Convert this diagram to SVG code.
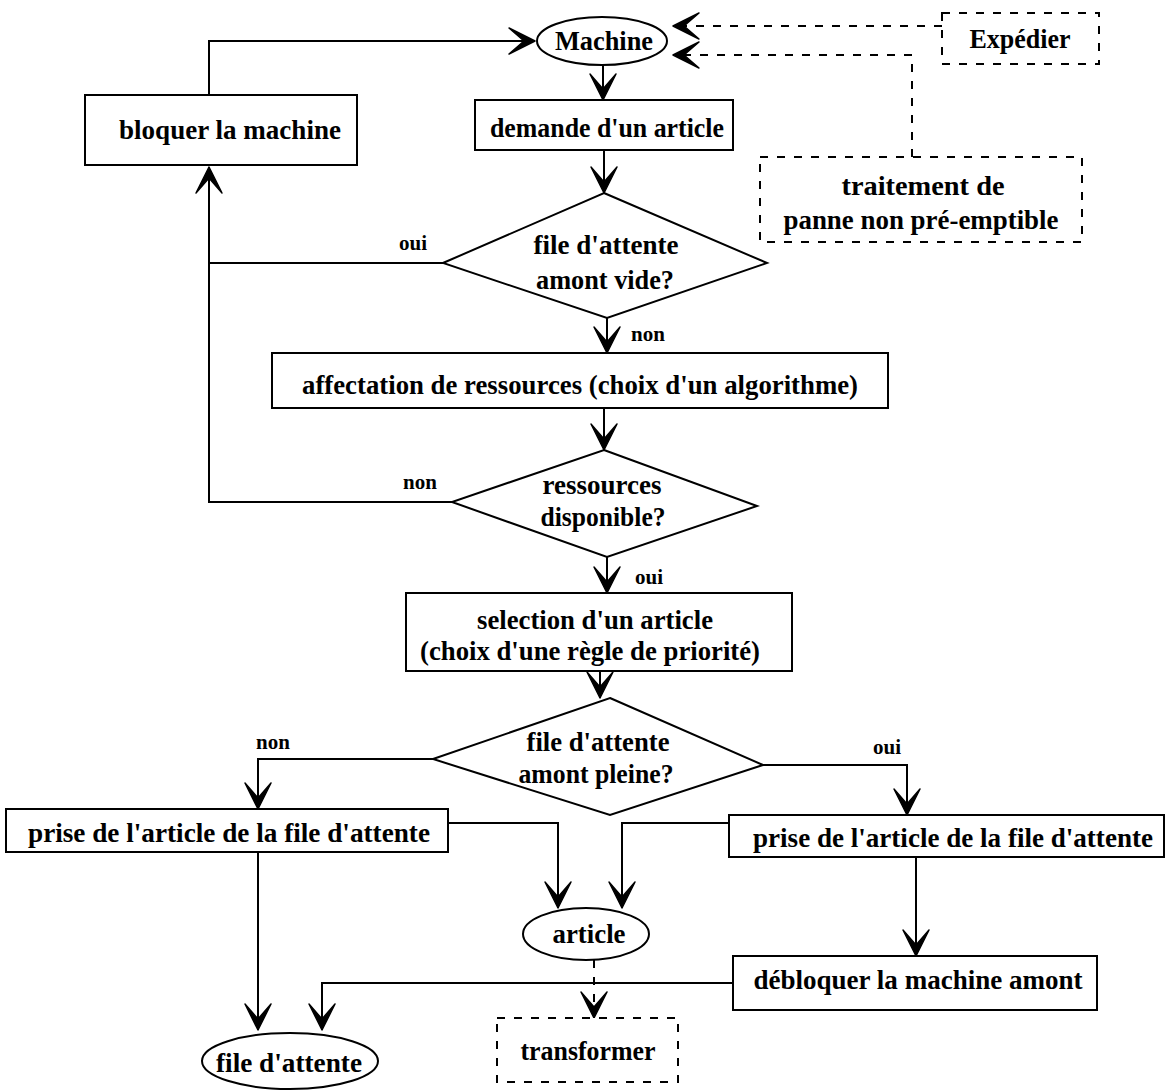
<svg xmlns="http://www.w3.org/2000/svg" width="1167" height="1090" viewBox="0 0 1167 1090">
<style>
.bg{fill:#fff}
.box{fill:#fff;stroke:#000;stroke-width:2}
.dbox{fill:#fff;stroke:#000;stroke-width:2;stroke-dasharray:8 9}
.t{font-family:"Liberation Serif","Times New Roman",serif;font-weight:bold;font-size:27px;fill:#000;text-anchor:middle}
.l{font-family:"Liberation Serif","Times New Roman",serif;font-weight:bold;font-size:21px;fill:#000;text-anchor:middle}
.c{fill:none;stroke:#000;stroke-width:2}
.a{marker-end:url(#ah)}
.d{stroke-dasharray:8 9}
</style>
<defs>
<marker id="ah" viewBox="-28 -16 30 32" refX="0" refY="0" markerWidth="30" markerHeight="32" markerUnits="userSpaceOnUse" orient="auto">
<path d="M0,0 L-26,-13 L-11,0 L-26,13 Z" fill="#000" stroke="#000" stroke-width="1.5" stroke-linejoin="round"/>
</marker>
</defs>
<rect class="bg" x="0" y="0" width="1167" height="1090"/>

<g id="connectors">
<path class="c a" d="M209,95 V41 H535"/>
<path class="c a d" d="M942,26 H673"/>
<path class="c a d" d="M912,157 V55 H673"/>
<path class="c a" d="M603,65 V100"/>
<path class="c a" d="M604,150 V193"/>
<path class="c a" d="M452,502 H209 V167"/>
<path class="c" d="M443,263 H209"/>
<path class="c a" d="M607,318 V353"/>
<path class="c a" d="M604,408 V450"/>
<path class="c a" d="M607,557 V593"/>
<path class="c a" d="M600,662 V698"/>
<path class="c a" d="M433,759 H258 V809"/>
<path class="c a" d="M763,765 H907 V815"/>
<path class="c a" d="M448,823 H558 V908"/>
<path class="c a" d="M729,823 H622 V908"/>
<path class="c a" d="M258,852 V1030"/>
<path class="c a" d="M733,983 H322 V1030"/>
<path class="c a" d="M916,857 V956"/>
<path class="c a d" d="M594,960 V1018"/>
<text class="l" x="413" y="250">oui</text>
<text class="l" x="648" y="341">non</text>
<text class="l" x="420" y="489">non</text>
<text class="l" x="649" y="584">oui</text>
<text class="l" x="273" y="749">non</text>
<text class="l" x="887" y="754">oui</text>
</g>

<g id="machine">
<ellipse class="box" cx="602" cy="41" rx="65" ry="24"/>
<text class="t" x="604" y="50" textLength="98" lengthAdjust="spacingAndGlyphs">Machine</text>
</g>
<g id="expedier">
<rect class="dbox" x="942" y="13" width="157" height="51"/>
<text class="t" x="1020" y="48" textLength="101" lengthAdjust="spacingAndGlyphs">Expédier</text>
</g>
<g id="bloquer">
<rect class="box" x="85" y="95" width="272" height="70"/>
<text class="t" x="230" y="139" textLength="222" lengthAdjust="spacingAndGlyphs">bloquer la machine</text>
</g>
<g id="demande">
<rect class="box" x="475" y="100" width="258" height="50"/>
<text class="t" x="607" y="137" textLength="234" lengthAdjust="spacingAndGlyphs">demande d'un article</text>
</g>
<g id="traitement">
<rect class="dbox" x="760" y="157" width="322" height="85"/>
<text class="t" x="923" y="195" textLength="163" lengthAdjust="spacingAndGlyphs">traitement de</text>
<text class="t" x="921" y="229" textLength="275" lengthAdjust="spacingAndGlyphs">panne non pré-emptible</text>
</g>
<g id="fileVide">
<polygon class="box" points="604,193 767,263 607,318 443,263"/>
<text class="t" x="606" y="254" textLength="145" lengthAdjust="spacingAndGlyphs">file d'attente</text>
<text class="t" x="605" y="289" textLength="138" lengthAdjust="spacingAndGlyphs">amont vide?</text>
</g>
<g id="affectation">
<rect class="box" x="272" y="353" width="616" height="55"/>
<text class="t" x="580" y="394" textLength="556" lengthAdjust="spacingAndGlyphs">affectation de ressources (choix d'un algorithme)</text>
</g>
<g id="ressources">
<polygon class="box" points="604,450 757,506 607,557 452,502"/>
<text class="t" x="602" y="494" textLength="119" lengthAdjust="spacingAndGlyphs">ressources</text>
<text class="t" x="603" y="526" textLength="125" lengthAdjust="spacingAndGlyphs">disponible?</text>
</g>
<g id="selection">
<rect class="box" x="406" y="593" width="386" height="78"/>
<text class="t" x="595" y="629" textLength="236" lengthAdjust="spacingAndGlyphs">selection d'un article</text>
<text class="t" x="590" y="660" textLength="340" lengthAdjust="spacingAndGlyphs">(choix d'une règle de priorité)</text>
</g>
<g id="filePleine">
<polygon class="box" points="610,698 763,765 610,815 433,759"/>
<text class="t" x="598" y="751" textLength="143" lengthAdjust="spacingAndGlyphs">file d'attente</text>
<text class="t" x="596" y="783" textLength="155" lengthAdjust="spacingAndGlyphs">amont pleine?</text>
</g>
<g id="priseGauche">
<rect class="box" x="6" y="809" width="442" height="43"/>
<text class="t" x="229" y="842" textLength="402" lengthAdjust="spacingAndGlyphs">prise de l'article de la file d'attente</text>
</g>
<g id="priseDroite">
<rect class="box" x="729" y="815" width="435" height="42"/>
<text class="t" x="953" y="847" textLength="400" lengthAdjust="spacingAndGlyphs">prise de l'article de la file d'attente</text>
</g>
<g id="article">
<ellipse class="box" cx="586" cy="934" rx="63" ry="26"/>
<text class="t" x="589" y="943" textLength="73" lengthAdjust="spacingAndGlyphs">article</text>
</g>
<g id="debloquer">
<rect class="box" x="733" y="956" width="364" height="54"/>
<text class="t" x="918" y="989" textLength="329" lengthAdjust="spacingAndGlyphs">débloquer la machine amont</text>
</g>
<g id="transformer">
<rect class="dbox" x="497" y="1018" width="181" height="64"/>
<text class="t" x="588" y="1060" textLength="135" lengthAdjust="spacingAndGlyphs">transformer</text>
</g>
<g id="fileAttente">
<ellipse class="box" cx="290" cy="1061" rx="88" ry="28"/>
<text class="t" x="289" y="1072" textLength="146" lengthAdjust="spacingAndGlyphs">file d'attente</text>
</g>
</svg>
